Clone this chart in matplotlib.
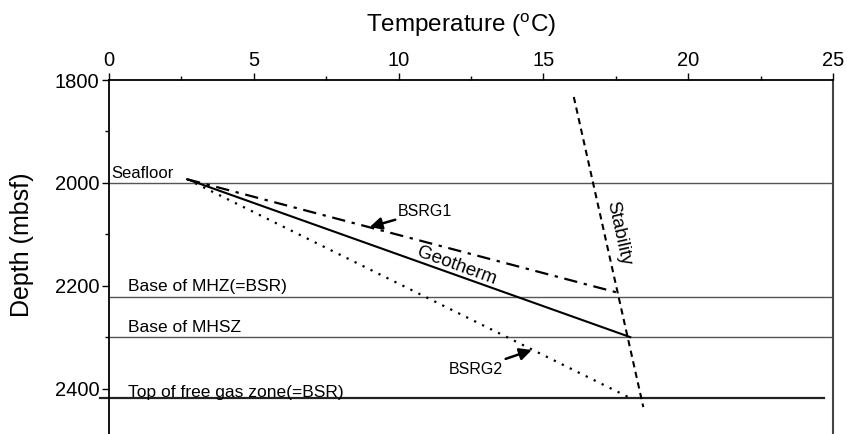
import matplotlib
matplotlib.use("Agg")
import matplotlib.pyplot as plt
from matplotlib.ticker import MultipleLocator

plt.rcParams['font.family'] = ['Liberation Sans', 'DejaVu Sans']
plt.rcParams['mathtext.fontset'] = 'custom'
plt.rcParams['mathtext.rm'] = 'Liberation Sans'

# data
temp_ticks = [0, 5, 10, 15, 20, 25]
depth_ticks = [1800, 2000, 2200, 2400]

geotherm_t = [2.7, 18.0]
geotherm_d = [1993, 2300]
bsrg1_t = [2.7, 17.6]
bsrg1_d = [1993, 2214]
bsrg2_t = [2.7, 17.95]
bsrg2_d = [1993, 2417]
stability_t = [16.05, 18.45]
stability_d = [1833, 2436]

boundary_depths = [2000, 2222, 2300]
gas_depth = 2418
gas_t = [-0.3, 24.7]

zone_labels = ["Seafloor", "Base of MHZ(=BSR)", "Base of MHSZ", "Top of free gas zone(=BSR)"]
zone_label_x = [0.07, 0.66, 0.66, 0.66]
zone_label_y = [1981, 2201, 2282, 2407]

fig = plt.figure(figsize=(8.47, 4.34), dpi=100)
ax = fig.add_axes([109 / 847, -6 / 434, 724 / 847, 360 / 434])

ax.set_xlim(0, 25)
ax.set_ylim(2500, 1800)

for d in boundary_depths:
    ax.axhline(d, color='#555555', lw=1.0)
ax.plot(gas_t, [gas_depth, gas_depth], color='#222222', lw=1.6, clip_on=False)

ax.plot(geotherm_t, geotherm_d, color='black', lw=1.5)
ax.plot(bsrg1_t, bsrg1_d, color='black', lw=1.6, linestyle=(0, (6, 3, 1.5, 3)))
ax.plot(bsrg2_t, bsrg2_d, color='black', lw=1.6, linestyle=(0, (1, 3)))
ax.plot(stability_t, stability_d, color='black', lw=1.5, linestyle=(0, (3, 2.2)))

for lab, x, y in zip(zone_labels, zone_label_x, zone_label_y):
    fs = 12 if lab == "Seafloor" else 12.5
    ax.text(x, y, lab, fontsize=fs, ha='left', va='center')

arrow = dict(arrowstyle='-|>', color='black', lw=1.8, mutation_scale=18,
             shrinkA=0, shrinkB=0)
ax.annotate("BSRG1", xy=(9.0, 2086), xytext=(9.98, 2055), fontsize=11.5,
            ha='left', va='center', arrowprops=arrow)
ax.annotate("BSRG2", xy=(14.6, 2325), xytext=(13.6, 2362), fontsize=11.5,
            ha='right', va='center', arrowprops=arrow)

ax.text(12.02, 2162, "Geotherm", fontsize=13.5, rotation=-20, ha='center', va='center')
ax.text(17.58, 2098, "Stability", fontsize=13.5, rotation=-77.5, ha='center', va='center')

# axes styling: top temperature axis, left depth axis
ax.xaxis.tick_top()
ax.set_xticks(temp_ticks)
ax.xaxis.set_minor_locator(MultipleLocator(2.5))
ax.set_yticks(depth_ticks)
ax.yaxis.set_minor_locator(MultipleLocator(100))
ax.tick_params(axis='both', which='major', labelsize=14.5, length=5, width=1, pad=2)
ax.tick_params(axis='both', which='minor', length=3, width=1)
ax.tick_params(axis='x', which='both', top=True, bottom=False)
ax.tick_params(axis='y', which='both', left=True, right=False)
ax.spines['bottom'].set_visible(False)
ax.spines['right'].set_color('#444444')
ax.spines['right'].set_linewidth(1.5)
for s in ['top', 'left']:
    ax.spines[s].set_linewidth(1.3)

fig.text(461 / 847, 1 - 25 / 434, r"Temperature ($^{\mathrm{o}}$C)", fontsize=17.5,
         ha='center', va='center')
fig.text(22 / 847, 1 - 245 / 434, "Depth (mbsf)", fontsize=18, rotation=90,
         ha='center', va='center')

fig.savefig("out.png", dpi=100)
